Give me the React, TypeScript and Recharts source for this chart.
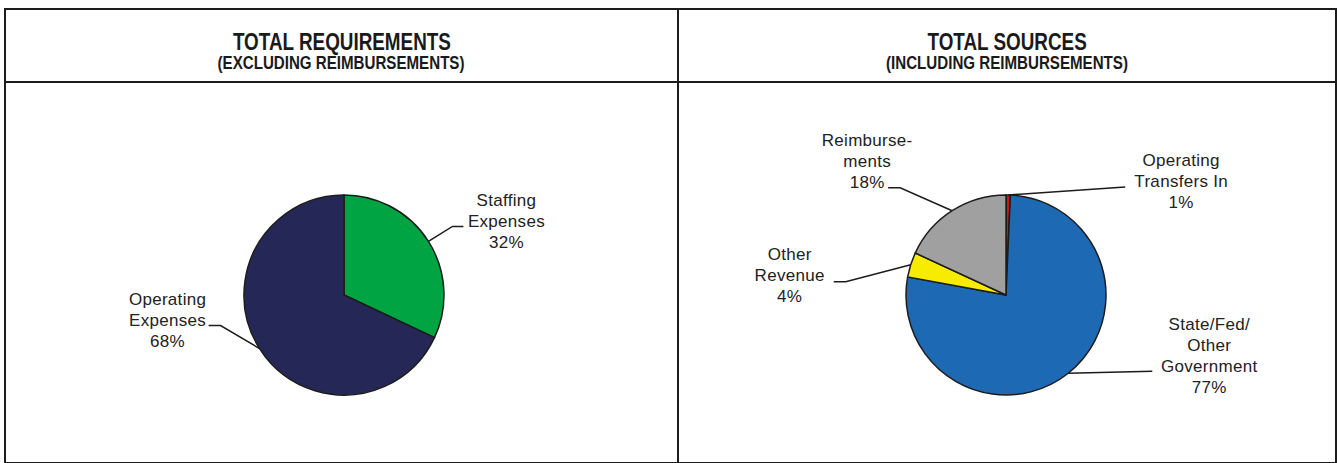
import React from "react";
import { PieChart, Pie, Cell } from "recharts";

// left chart: requirements
const reqNames = ["Staffing\nExpenses", "Operating\nExpenses"];
const reqValues = [32, 68];
const reqColors = ["#00A443", "#252856"];

// right chart: sources (clockwise from 12 o'clock)
const srcNames = ["Operating\nTransfers In", "State/Fed/\nOther\nGovernment", "Other\nRevenue", "Reimburse-\nments"];
const srcValues = [0.7, 77.2, 4.0, 18.1];
const srcColors = ["#D01414", "#1E69B4", "#F7EC00", "#A0A0A0"];

const titles = ["TOTAL REQUIREMENTS", "TOTAL SOURCES"];
const subtitles = ["(EXCLUDING REIMBURSEMENTS)", "(INCLUDING REIMBURSEMENTS)"];

// leader line elbow (relative to arc point), end of the short horizontal, text block offset
type LabelPos = { ex: number; ey: number; hx: number; tx: number; ty: number };
const reqLabelPos: LabelPos[] = [
  { ex: 24, ey: -15, hx: 11, tx: 43, ty: -26 },
  { ex: -39, ey: -23, hx: -12, tx: -41, ty: -26 },
];
const srcLabelPos: LabelPos[] = [
  { ex: 117, ey: -8, hx: 0, tx: 56, ty: -27 },
  { ex: 84, ey: -2, hx: 0, tx: 57, ty: -47 },
  { ex: -65, ey: 17, hx: -12, tx: -44, ty: -27 },
  { ex: -52, ey: -23, hx: -12, tx: -21, ty: -47 },
];

const RADIAN = Math.PI / 180;
const LINE_H = 21;
const INK = "#1c1c1c";
const FONT = "'Liberation Sans', Arial, sans-serif";

const makeLabel = (layout: LabelPos[]) => (props: any) => {
  const { cx, cy, midAngle, outerRadius, index, percent, name } = props;
  const pos = layout[index];
  const ax = cx + outerRadius * Math.cos(-midAngle * RADIAN);
  const ay = cy + outerRadius * Math.sin(-midAngle * RADIAN);
  const bx = ax + pos.ex;
  const by = ay + pos.ey;
  const hx = bx + pos.hx;
  const lines = [...String(name).split("\n"), `${Math.round(percent * 100)}%`];
  return (
    <g>
      <polyline
        points={`${ax},${ay} ${bx},${by} ${hx},${by}`}
        fill="none"
        stroke={INK}
        strokeWidth={1.5}
      />
      {lines.map((t, i) => (
        <text
          key={i}
          x={hx + pos.tx}
          y={by + pos.ty + i * LINE_H}
          textAnchor="middle"
          dominantBaseline="central"
          fontFamily={FONT}
          fontSize={17}
          letterSpacing={0.3}
          fill="#222"
        >
          {t}
        </text>
      ))}
    </g>
  );
};

function Panel({
  names,
  values,
  colors,
  layout,
  width,
  cx,
}: {
  names: string[];
  values: number[];
  colors: string[];
  layout: LabelPos[];
  width: number;
  cx: number;
}) {
  const data = names.map((n, i) => ({ name: n, value: values[i] }));
  return (
    <PieChart width={width} height={378} margin={{ top: 0, right: 0, bottom: 0, left: 0 }}>
      <Pie
        data={data}
        dataKey="value"
        nameKey="name"
        cx={cx}
        cy={212}
        outerRadius={100}
        startAngle={90}
        endAngle={-270}
        stroke={INK}
        strokeWidth={1.5}
        label={makeLabel(layout)}
        labelLine={false}
        isAnimationActive={false}
      >
        {data.map((d, i) => (
          <Cell key={d.name} fill={colors[i]} />
        ))}
      </Pie>
    </PieChart>
  );
}

const headStyle = (left: number, width: number): React.CSSProperties => ({
  position: "absolute",
  left,
  top: 10,
  width,
  height: 71,
  textAlign: "center",
  fontFamily: "'Liberation Sans', Arial, sans-serif",
  fontWeight: "bold",
  color: "#1a1a1a",
});

const narrow = (s: number): React.CSSProperties => ({
  display: "inline-block",
  transform: `scaleX(${s})`,
  transformOrigin: "center",
});

export default function App() {
  return (
    <div style={{ position: "absolute", left: 0, top: 0, width: 1338, height: 463, background: "#fff", overflow: "hidden" }}>
      <div style={{ position: "absolute", left: 4, top: 8, width: 1333, height: 456, border: `2px solid ${INK}`, boxSizing: "border-box" }} />
      <div style={{ position: "absolute", left: 677, top: 8, width: 2, height: 456, background: INK }} />
      <div style={{ position: "absolute", left: 4, top: 81, width: 1333, height: 2, background: INK }} />

      {[0, 1].map((k) => (
        <div key={k} style={headStyle(k === 0 ? 6 : 679, k === 0 ? 671 : 656)}>
          <div style={{ fontSize: 23, lineHeight: "24px", marginTop: 20, whiteSpace: "nowrap" }}>
            <span style={narrow(0.82)}>{titles[k]}</span>
          </div>
          <div style={{ fontSize: 18, lineHeight: "19px", whiteSpace: "nowrap" }}>
            <span style={narrow(0.84)}>{subtitles[k]}</span>
          </div>
        </div>
      ))}

      <div style={{ position: "absolute", left: 6, top: 83 }}>
        <Panel names={reqNames} values={reqValues} colors={reqColors} layout={reqLabelPos} width={671} cx={338} />
      </div>
      <div style={{ position: "absolute", left: 679, top: 83 }}>
        <Panel names={srcNames} values={srcValues} colors={srcColors} layout={srcLabelPos} width={656} cx={327} />
      </div>
    </div>
  );
}
